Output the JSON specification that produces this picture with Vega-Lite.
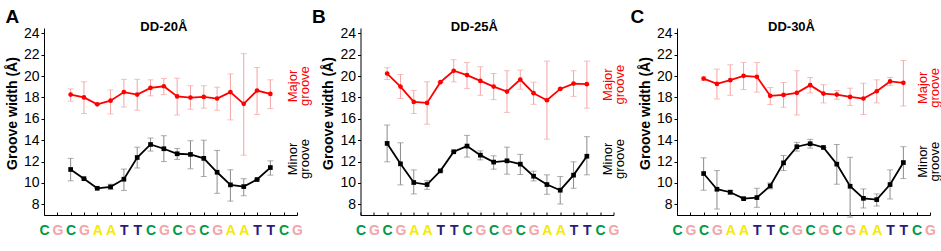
{
  "$schema": "https://vega.github.io/schema/vega-lite/v6.json",
  "padding": {"left": 5, "top": 7, "right": 0, "bottom": 0},
  "config": {
    "font": "Liberation Sans",
    "view": {"stroke": null},
    "axis": {"domainColor": "#000", "tickColor": "#000", "labelColor": "#000", "titleColor": "#000", "grid": false, "labelFont": "Liberation Sans", "titleFont": "Liberation Sans"},
    "title": {"anchor": "start", "frame": "bounds", "fontSize": 19, "fontWeight": "bold", "color": "#000", "offset": -6}
  },
  "datasets": {
    "A": [
      {"groove": "Major", "pos": 3, "w": 18.27, "lo": 17.65, "hi": 18.8},
      {"groove": "Major", "pos": 4, "w": 18.0, "lo": 16.5, "hi": 19.46},
      {"groove": "Major", "pos": 5, "w": 17.36, "lo": 17.36, "hi": 17.36},
      {"groove": "Major", "pos": 6, "w": 17.7, "lo": 16.45, "hi": 18.7},
      {"groove": "Major", "pos": 7, "w": 18.5, "lo": 17.1, "hi": 19.7},
      {"groove": "Major", "pos": 8, "w": 18.27, "lo": 16.8, "hi": 19.7},
      {"groove": "Major", "pos": 9, "w": 18.9, "lo": 18.15, "hi": 19.65},
      {"groove": "Major", "pos": 10, "w": 19.05, "lo": 18.27, "hi": 19.77},
      {"groove": "Major", "pos": 11, "w": 18.1, "lo": 16.36, "hi": 19.8},
      {"groove": "Major", "pos": 12, "w": 17.99, "lo": 16.9, "hi": 19.1},
      {"groove": "Major", "pos": 13, "w": 18.05, "lo": 17.0, "hi": 19.1},
      {"groove": "Major", "pos": 14, "w": 17.9, "lo": 16.8, "hi": 18.96},
      {"groove": "Major", "pos": 15, "w": 18.5, "lo": 15.9, "hi": 20.2},
      {"groove": "Major", "pos": 16, "w": 17.4, "lo": 12.6, "hi": 22.1},
      {"groove": "Major", "pos": 17, "w": 18.65, "lo": 16.4, "hi": 20.8},
      {"groove": "Major", "pos": 18, "w": 18.33, "lo": 16.96, "hi": 19.65},
      {"groove": "Minor", "pos": 3, "w": 11.26, "lo": 10.2, "hi": 12.3},
      {"groove": "Minor", "pos": 4, "w": 10.4, "lo": 10.4, "hi": 10.4},
      {"groove": "Minor", "pos": 5, "w": 9.5, "lo": 9.5, "hi": 9.5},
      {"groove": "Minor", "pos": 6, "w": 9.63, "lo": 9.4, "hi": 9.88},
      {"groove": "Minor", "pos": 7, "w": 10.35, "lo": 9.3, "hi": 11.3},
      {"groove": "Minor", "pos": 8, "w": 12.38, "lo": 11.4, "hi": 13.35},
      {"groove": "Minor", "pos": 9, "w": 13.6, "lo": 12.98, "hi": 14.2},
      {"groove": "Minor", "pos": 10, "w": 13.2, "lo": 12.0, "hi": 14.42},
      {"groove": "Minor", "pos": 11, "w": 12.73, "lo": 12.2, "hi": 13.23},
      {"groove": "Minor", "pos": 12, "w": 12.67, "lo": 11.32, "hi": 13.95},
      {"groove": "Minor", "pos": 13, "w": 12.3, "lo": 10.6, "hi": 14.0},
      {"groove": "Minor", "pos": 14, "w": 11.0, "lo": 9.03, "hi": 13.04},
      {"groove": "Minor", "pos": 15, "w": 9.82, "lo": 8.3, "hi": 11.23},
      {"groove": "Minor", "pos": 16, "w": 9.66, "lo": 8.8, "hi": 10.4},
      {"groove": "Minor", "pos": 17, "w": 10.32, "lo": 10.32, "hi": 10.32},
      {"groove": "Minor", "pos": 18, "w": 11.44, "lo": 10.73, "hi": 12.07}
    ],
    "B": [
      {"groove": "Major", "pos": 3, "w": 20.24, "lo": 19.68, "hi": 20.78},
      {"groove": "Major", "pos": 4, "w": 19.02, "lo": 17.9, "hi": 20.15},
      {"groove": "Major", "pos": 5, "w": 17.58, "lo": 16.5, "hi": 18.65},
      {"groove": "Major", "pos": 6, "w": 17.49, "lo": 15.5, "hi": 19.46},
      {"groove": "Major", "pos": 7, "w": 19.43, "lo": 19.43, "hi": 19.43},
      {"groove": "Major", "pos": 8, "w": 20.5, "lo": 19.46, "hi": 21.53},
      {"groove": "Major", "pos": 9, "w": 20.09, "lo": 18.83, "hi": 21.28},
      {"groove": "Major", "pos": 10, "w": 19.55, "lo": 18.2, "hi": 20.87},
      {"groove": "Major", "pos": 11, "w": 19.02, "lo": 17.8, "hi": 20.24},
      {"groove": "Major", "pos": 12, "w": 18.55, "lo": 16.6, "hi": 20.5},
      {"groove": "Major", "pos": 13, "w": 19.68, "lo": 18.77, "hi": 20.56},
      {"groove": "Major", "pos": 14, "w": 18.4, "lo": 17.36, "hi": 19.43},
      {"groove": "Major", "pos": 15, "w": 17.74, "lo": 14.1, "hi": 21.4},
      {"groove": "Major", "pos": 16, "w": 18.8, "lo": 18.8, "hi": 18.8},
      {"groove": "Major", "pos": 17, "w": 19.3, "lo": 18.1, "hi": 20.5},
      {"groove": "Major", "pos": 18, "w": 19.24, "lo": 17.0, "hi": 21.4},
      {"groove": "Minor", "pos": 3, "w": 13.7, "lo": 11.98, "hi": 15.42},
      {"groove": "Minor", "pos": 4, "w": 11.79, "lo": 9.82, "hi": 13.76},
      {"groove": "Minor", "pos": 5, "w": 10.04, "lo": 8.97, "hi": 11.22},
      {"groove": "Minor", "pos": 6, "w": 9.85, "lo": 9.4, "hi": 10.22},
      {"groove": "Minor", "pos": 7, "w": 11.13, "lo": 11.13, "hi": 11.13},
      {"groove": "Minor", "pos": 8, "w": 12.92, "lo": 12.92, "hi": 12.92},
      {"groove": "Minor", "pos": 9, "w": 13.45, "lo": 12.42, "hi": 14.45},
      {"groove": "Minor", "pos": 10, "w": 12.6, "lo": 12.16, "hi": 13.0},
      {"groove": "Minor", "pos": 11, "w": 11.95, "lo": 11.29, "hi": 12.54},
      {"groove": "Minor", "pos": 12, "w": 12.07, "lo": 10.82, "hi": 13.35},
      {"groove": "Minor", "pos": 13, "w": 11.76, "lo": 10.79, "hi": 12.67},
      {"groove": "Minor", "pos": 14, "w": 10.63, "lo": 10.19, "hi": 11.1},
      {"groove": "Minor", "pos": 15, "w": 9.85, "lo": 8.94, "hi": 10.76},
      {"groove": "Minor", "pos": 16, "w": 9.32, "lo": 8.03, "hi": 10.6},
      {"groove": "Minor", "pos": 17, "w": 10.73, "lo": 9.5, "hi": 11.98},
      {"groove": "Minor", "pos": 18, "w": 12.5, "lo": 10.76, "hi": 14.33}
    ],
    "C": [
      {"groove": "Major", "pos": 3, "w": 19.77, "lo": 19.6, "hi": 19.93},
      {"groove": "Major", "pos": 4, "w": 19.27, "lo": 17.86, "hi": 20.65},
      {"groove": "Major", "pos": 5, "w": 19.62, "lo": 18.2, "hi": 21.06},
      {"groove": "Major", "pos": 6, "w": 20.02, "lo": 18.74, "hi": 21.28},
      {"groove": "Major", "pos": 7, "w": 19.93, "lo": 18.5, "hi": 21.28},
      {"groove": "Major", "pos": 8, "w": 18.15, "lo": 17.33, "hi": 18.93},
      {"groove": "Major", "pos": 9, "w": 18.24, "lo": 17.08, "hi": 19.4},
      {"groove": "Major", "pos": 10, "w": 18.43, "lo": 16.36, "hi": 20.5},
      {"groove": "Major", "pos": 11, "w": 19.15, "lo": 18.43, "hi": 19.87},
      {"groove": "Major", "pos": 12, "w": 18.36, "lo": 17.49, "hi": 19.2},
      {"groove": "Major", "pos": 13, "w": 18.27, "lo": 17.83, "hi": 18.65},
      {"groove": "Major", "pos": 14, "w": 18.05, "lo": 17.24, "hi": 18.87},
      {"groove": "Major", "pos": 15, "w": 17.9, "lo": 16.4, "hi": 19.33},
      {"groove": "Major", "pos": 16, "w": 18.58, "lo": 17.49, "hi": 19.65},
      {"groove": "Major", "pos": 17, "w": 19.5, "lo": 19.12, "hi": 19.87},
      {"groove": "Major", "pos": 18, "w": 19.37, "lo": 17.2, "hi": 21.46},
      {"groove": "Minor", "pos": 3, "w": 10.88, "lo": 9.32, "hi": 12.35},
      {"groove": "Minor", "pos": 4, "w": 9.41, "lo": 7.56, "hi": 11.16},
      {"groove": "Minor", "pos": 5, "w": 9.13, "lo": 8.94, "hi": 9.32},
      {"groove": "Minor", "pos": 6, "w": 8.53, "lo": 8.53, "hi": 8.53},
      {"groove": "Minor", "pos": 7, "w": 8.63, "lo": 7.72, "hi": 9.5},
      {"groove": "Minor", "pos": 8, "w": 9.72, "lo": 9.44, "hi": 10.0},
      {"groove": "Minor", "pos": 9, "w": 11.88, "lo": 11.16, "hi": 12.57},
      {"groove": "Minor", "pos": 10, "w": 13.39, "lo": 12.98, "hi": 13.8},
      {"groove": "Minor", "pos": 11, "w": 13.67, "lo": 13.26, "hi": 14.08},
      {"groove": "Minor", "pos": 12, "w": 13.32, "lo": 13.32, "hi": 13.32},
      {"groove": "Minor", "pos": 13, "w": 11.76, "lo": 9.88, "hi": 13.6},
      {"groove": "Minor", "pos": 14, "w": 9.69, "lo": 6.8, "hi": 12.4},
      {"groove": "Minor", "pos": 15, "w": 8.56, "lo": 7.66, "hi": 9.44},
      {"groove": "Minor", "pos": 16, "w": 8.44, "lo": 7.84, "hi": 8.97},
      {"groove": "Minor", "pos": 17, "w": 9.85, "lo": 8.5, "hi": 11.22},
      {"groove": "Minor", "pos": 18, "w": 11.91, "lo": 10.41, "hi": 13.39}
    ]
  },
  "bounds": "flush",
  "spacing": 63.5,
  "hconcat": [
    {
      "width": 253, "height": 187,
      "title": {"text": "A"},
      "data": {"name": "A"},
      "encoding": {
        "x": {"field": "pos", "type": "quantitative", "scale": {"domain": [1, 20], "nice": false, "zero": false},
          "axis": {"title": null, "values": [1,2,3,4,5,6,7,8,9,10,11,12,13,14,15,16,17,18,19,20], "labelExpr": "substring('CGCGAATTCGCGCGAATTCG', datum.value - 1, datum.value)", "labelFontSize": 14, "labelFontWeight": "bold", "tickSize": -3, "labelPadding": 11, "labelOverlap": false, "labelFlush": false,
            "labelColor": {"expr": "['#009a44','#f4a3a8','#009a44','#f4a3a8','#f5ea00','#f5ea00','#2a1b7d','#2a1b7d','#009a44','#f4a3a8','#009a44','#f4a3a8','#009a44','#f4a3a8','#f5ea00','#f5ea00','#2a1b7d','#2a1b7d','#009a44','#f4a3a8'][datum.value - 1]"}}},
        "y": {"field": "w", "type": "quantitative", "title": "Groove width (Å)", "scale": {"domain": [7, 24.5], "nice": false, "zero": false},
          "axis": {"values": [8,10,12,14,16,18,20,22,24], "tickSize": 3, "labelPadding": 2, "labelFontSize": 14, "titleFontSize": 14, "titleFontWeight": "bold", "titlePadding": 4, "titleY": 85}}
      },
      "layer": [
        {"transform": [{"filter": "datum.groove == 'Major'"}], "mark": {"type": "errorbar", "ticks": true, "size": 6, "thickness": 1, "color": "#f5a3a3"},
          "encoding": {"y": {"field": "lo", "type": "quantitative", "title": "Groove width (Å)"}, "y2": {"field": "hi"}}},
        {"transform": [{"filter": "datum.groove == 'Minor'"}], "mark": {"type": "errorbar", "ticks": true, "size": 6, "thickness": 1, "color": "#8a8a8a"},
          "encoding": {"y": {"field": "lo", "type": "quantitative", "title": "Groove width (Å)"}, "y2": {"field": "hi"}}},
        {"mark": {"type": "line", "strokeWidth": 1.8},
          "encoding": {"color": {"field": "groove", "type": "nominal", "scale": {"domain": ["Major", "Minor"], "range": ["#ff0000", "#000000"]}, "legend": null}}},
        {"mark": {"type": "point", "filled": true, "opacity": 1, "size": 22},
          "encoding": {"color": {"field": "groove", "type": "nominal", "scale": {"domain": ["Major", "Minor"], "range": ["#ff0000", "#000000"]}, "legend": null},
            "shape": {"field": "groove", "type": "nominal", "scale": {"domain": ["Major", "Minor"], "range": ["circle", "square"]}, "legend": null}}},
        {"transform": [{"filter": "datum.groove == 'Major' && datum.pos == 3"}], "mark": {"type": "text", "angle": 270, "fontSize": 13, "fill": "#ff0000", "lineHeight": 12, "align": "center", "baseline": "middle"},
          "encoding": {"x": {"datum": 19.67}, "y": {"datum": 19.07}, "text": {"value": ["Major", "groove"]}}},
        {"transform": [{"filter": "datum.groove == 'Major' && datum.pos == 3"}], "mark": {"type": "text", "angle": 270, "fontSize": 13, "fill": "#000000", "lineHeight": 12, "align": "center", "baseline": "middle"},
          "encoding": {"x": {"datum": 19.67}, "y": {"datum": 12.24}, "text": {"value": ["Minor", "groove"]}}},
        {"transform": [{"filter": "datum.groove == 'Major' && datum.pos == 3"}], "mark": {"type": "text", "fontSize": 13, "fontWeight": "bold", "fill": "#000000", "align": "center", "baseline": "middle"},
          "encoding": {"x": {"datum": 10.0}, "y": {"datum": 24.6}, "text": {"value": "DD-20Å"}}}
      ]
    },
    {
      "width": 253, "height": 187,
      "title": {"text": "B", "dx": -10},
      "data": {"name": "B"},
      "encoding": {
        "x": {"field": "pos", "type": "quantitative", "scale": {"domain": [1, 20], "nice": false, "zero": false},
          "axis": {"title": null, "values": [1,2,3,4,5,6,7,8,9,10,11,12,13,14,15,16,17,18,19,20], "labelExpr": "substring('CGCGAATTCGCGCGAATTCG', datum.value - 1, datum.value)", "labelFontSize": 14, "labelFontWeight": "bold", "tickSize": -3, "labelPadding": 11, "labelOverlap": false, "labelFlush": false,
            "labelColor": {"expr": "['#009a44','#f4a3a8','#009a44','#f4a3a8','#f5ea00','#f5ea00','#2a1b7d','#2a1b7d','#009a44','#f4a3a8','#009a44','#f4a3a8','#009a44','#f4a3a8','#f5ea00','#f5ea00','#2a1b7d','#2a1b7d','#009a44','#f4a3a8'][datum.value - 1]"}}},
        "y": {"field": "w", "type": "quantitative", "title": "Groove width (Å)", "scale": {"domain": [7, 24.5], "nice": false, "zero": false},
          "axis": {"values": [8,10,12,14,16,18,20,22,24], "tickSize": 3, "labelPadding": 2, "labelFontSize": 14, "titleFontSize": 14, "titleFontWeight": "bold", "titlePadding": 4, "titleY": 85}}
      },
      "layer": [
        {"transform": [{"filter": "datum.groove == 'Major'"}], "mark": {"type": "errorbar", "ticks": true, "size": 6, "thickness": 1, "color": "#f5a3a3"},
          "encoding": {"y": {"field": "lo", "type": "quantitative", "title": "Groove width (Å)"}, "y2": {"field": "hi"}}},
        {"transform": [{"filter": "datum.groove == 'Minor'"}], "mark": {"type": "errorbar", "ticks": true, "size": 6, "thickness": 1, "color": "#8a8a8a"},
          "encoding": {"y": {"field": "lo", "type": "quantitative", "title": "Groove width (Å)"}, "y2": {"field": "hi"}}},
        {"mark": {"type": "line", "strokeWidth": 1.8},
          "encoding": {"color": {"field": "groove", "type": "nominal", "scale": {"domain": ["Major", "Minor"], "range": ["#ff0000", "#000000"]}, "legend": null}}},
        {"mark": {"type": "point", "filled": true, "opacity": 1, "size": 22},
          "encoding": {"color": {"field": "groove", "type": "nominal", "scale": {"domain": ["Major", "Minor"], "range": ["#ff0000", "#000000"]}, "legend": null},
            "shape": {"field": "groove", "type": "nominal", "scale": {"domain": ["Major", "Minor"], "range": ["circle", "square"]}, "legend": null}}},
        {"transform": [{"filter": "datum.groove == 'Major' && datum.pos == 3"}], "mark": {"type": "text", "angle": 270, "fontSize": 13, "fill": "#ff0000", "lineHeight": 12, "align": "center", "baseline": "middle"},
          "encoding": {"x": {"datum": 19.6}, "y": {"datum": 19.2}, "text": {"value": ["Major", "groove"]}}},
        {"transform": [{"filter": "datum.groove == 'Major' && datum.pos == 3"}], "mark": {"type": "text", "angle": 270, "fontSize": 13, "fill": "#000000", "lineHeight": 12, "align": "center", "baseline": "middle"},
          "encoding": {"x": {"datum": 19.6}, "y": {"datum": 12.24}, "text": {"value": ["Minor", "groove"]}}},
        {"transform": [{"filter": "datum.groove == 'Major' && datum.pos == 3"}], "mark": {"type": "text", "fontSize": 13, "fontWeight": "bold", "fill": "#000000", "align": "center", "baseline": "middle"},
          "encoding": {"x": {"datum": 9.55}, "y": {"datum": 24.6}, "text": {"value": "DD-25Å"}}}
      ]
    },
    {
      "width": 253, "height": 187,
      "title": {"text": "C", "dx": -8},
      "data": {"name": "C"},
      "encoding": {
        "x": {"field": "pos", "type": "quantitative", "scale": {"domain": [1, 20], "nice": false, "zero": false},
          "axis": {"title": null, "values": [1,2,3,4,5,6,7,8,9,10,11,12,13,14,15,16,17,18,19,20], "labelExpr": "substring('CGCGAATTCGCGCGAATTCG', datum.value - 1, datum.value)", "labelFontSize": 14, "labelFontWeight": "bold", "tickSize": -3, "labelPadding": 11, "labelOverlap": false, "labelFlush": false,
            "labelColor": {"expr": "['#009a44','#f4a3a8','#009a44','#f4a3a8','#f5ea00','#f5ea00','#2a1b7d','#2a1b7d','#009a44','#f4a3a8','#009a44','#f4a3a8','#009a44','#f4a3a8','#f5ea00','#f5ea00','#2a1b7d','#2a1b7d','#009a44','#f4a3a8'][datum.value - 1]"}}},
        "y": {"field": "w", "type": "quantitative", "title": "Groove width (Å)", "scale": {"domain": [7, 24.5], "nice": false, "zero": false},
          "axis": {"values": [8,10,12,14,16,18,20,22,24], "tickSize": 3, "labelPadding": 2, "labelFontSize": 14, "titleFontSize": 14, "titleFontWeight": "bold", "titlePadding": 4, "titleY": 85}}
      },
      "layer": [
        {"transform": [{"filter": "datum.groove == 'Major'"}], "mark": {"type": "errorbar", "ticks": true, "size": 6, "thickness": 1, "color": "#f5a3a3"},
          "encoding": {"y": {"field": "lo", "type": "quantitative", "title": "Groove width (Å)"}, "y2": {"field": "hi"}}},
        {"transform": [{"filter": "datum.groove == 'Minor'"}], "mark": {"type": "errorbar", "ticks": true, "size": 6, "thickness": 1, "color": "#8a8a8a"},
          "encoding": {"y": {"field": "lo", "type": "quantitative", "title": "Groove width (Å)"}, "y2": {"field": "hi"}}},
        {"mark": {"type": "line", "strokeWidth": 1.8},
          "encoding": {"color": {"field": "groove", "type": "nominal", "scale": {"domain": ["Major", "Minor"], "range": ["#ff0000", "#000000"]}, "legend": null}}},
        {"mark": {"type": "point", "filled": true, "opacity": 1, "size": 22},
          "encoding": {"color": {"field": "groove", "type": "nominal", "scale": {"domain": ["Major", "Minor"], "range": ["#ff0000", "#000000"]}, "legend": null},
            "shape": {"field": "groove", "type": "nominal", "scale": {"domain": ["Major", "Minor"], "range": ["circle", "square"]}, "legend": null}}},
        {"transform": [{"filter": "datum.groove == 'Major' && datum.pos == 3"}], "mark": {"type": "text", "angle": 270, "fontSize": 13, "fill": "#ff0000", "lineHeight": 12, "align": "center", "baseline": "middle"},
          "encoding": {"x": {"datum": 19.5}, "y": {"datum": 18.9}, "text": {"value": ["Major", "groove"]}}},
        {"transform": [{"filter": "datum.groove == 'Major' && datum.pos == 3"}], "mark": {"type": "text", "angle": 270, "fontSize": 13, "fill": "#000000", "lineHeight": 12, "align": "center", "baseline": "middle"},
          "encoding": {"x": {"datum": 19.5}, "y": {"datum": 12.0}, "text": {"value": ["Minor", "groove"]}}},
        {"transform": [{"filter": "datum.groove == 'Major' && datum.pos == 3"}], "mark": {"type": "text", "fontSize": 13, "fontWeight": "bold", "fill": "#000000", "align": "center", "baseline": "middle"},
          "encoding": {"x": {"datum": 9.6}, "y": {"datum": 24.6}, "text": {"value": "DD-30Å"}}}
      ]
    }
  ]
}
